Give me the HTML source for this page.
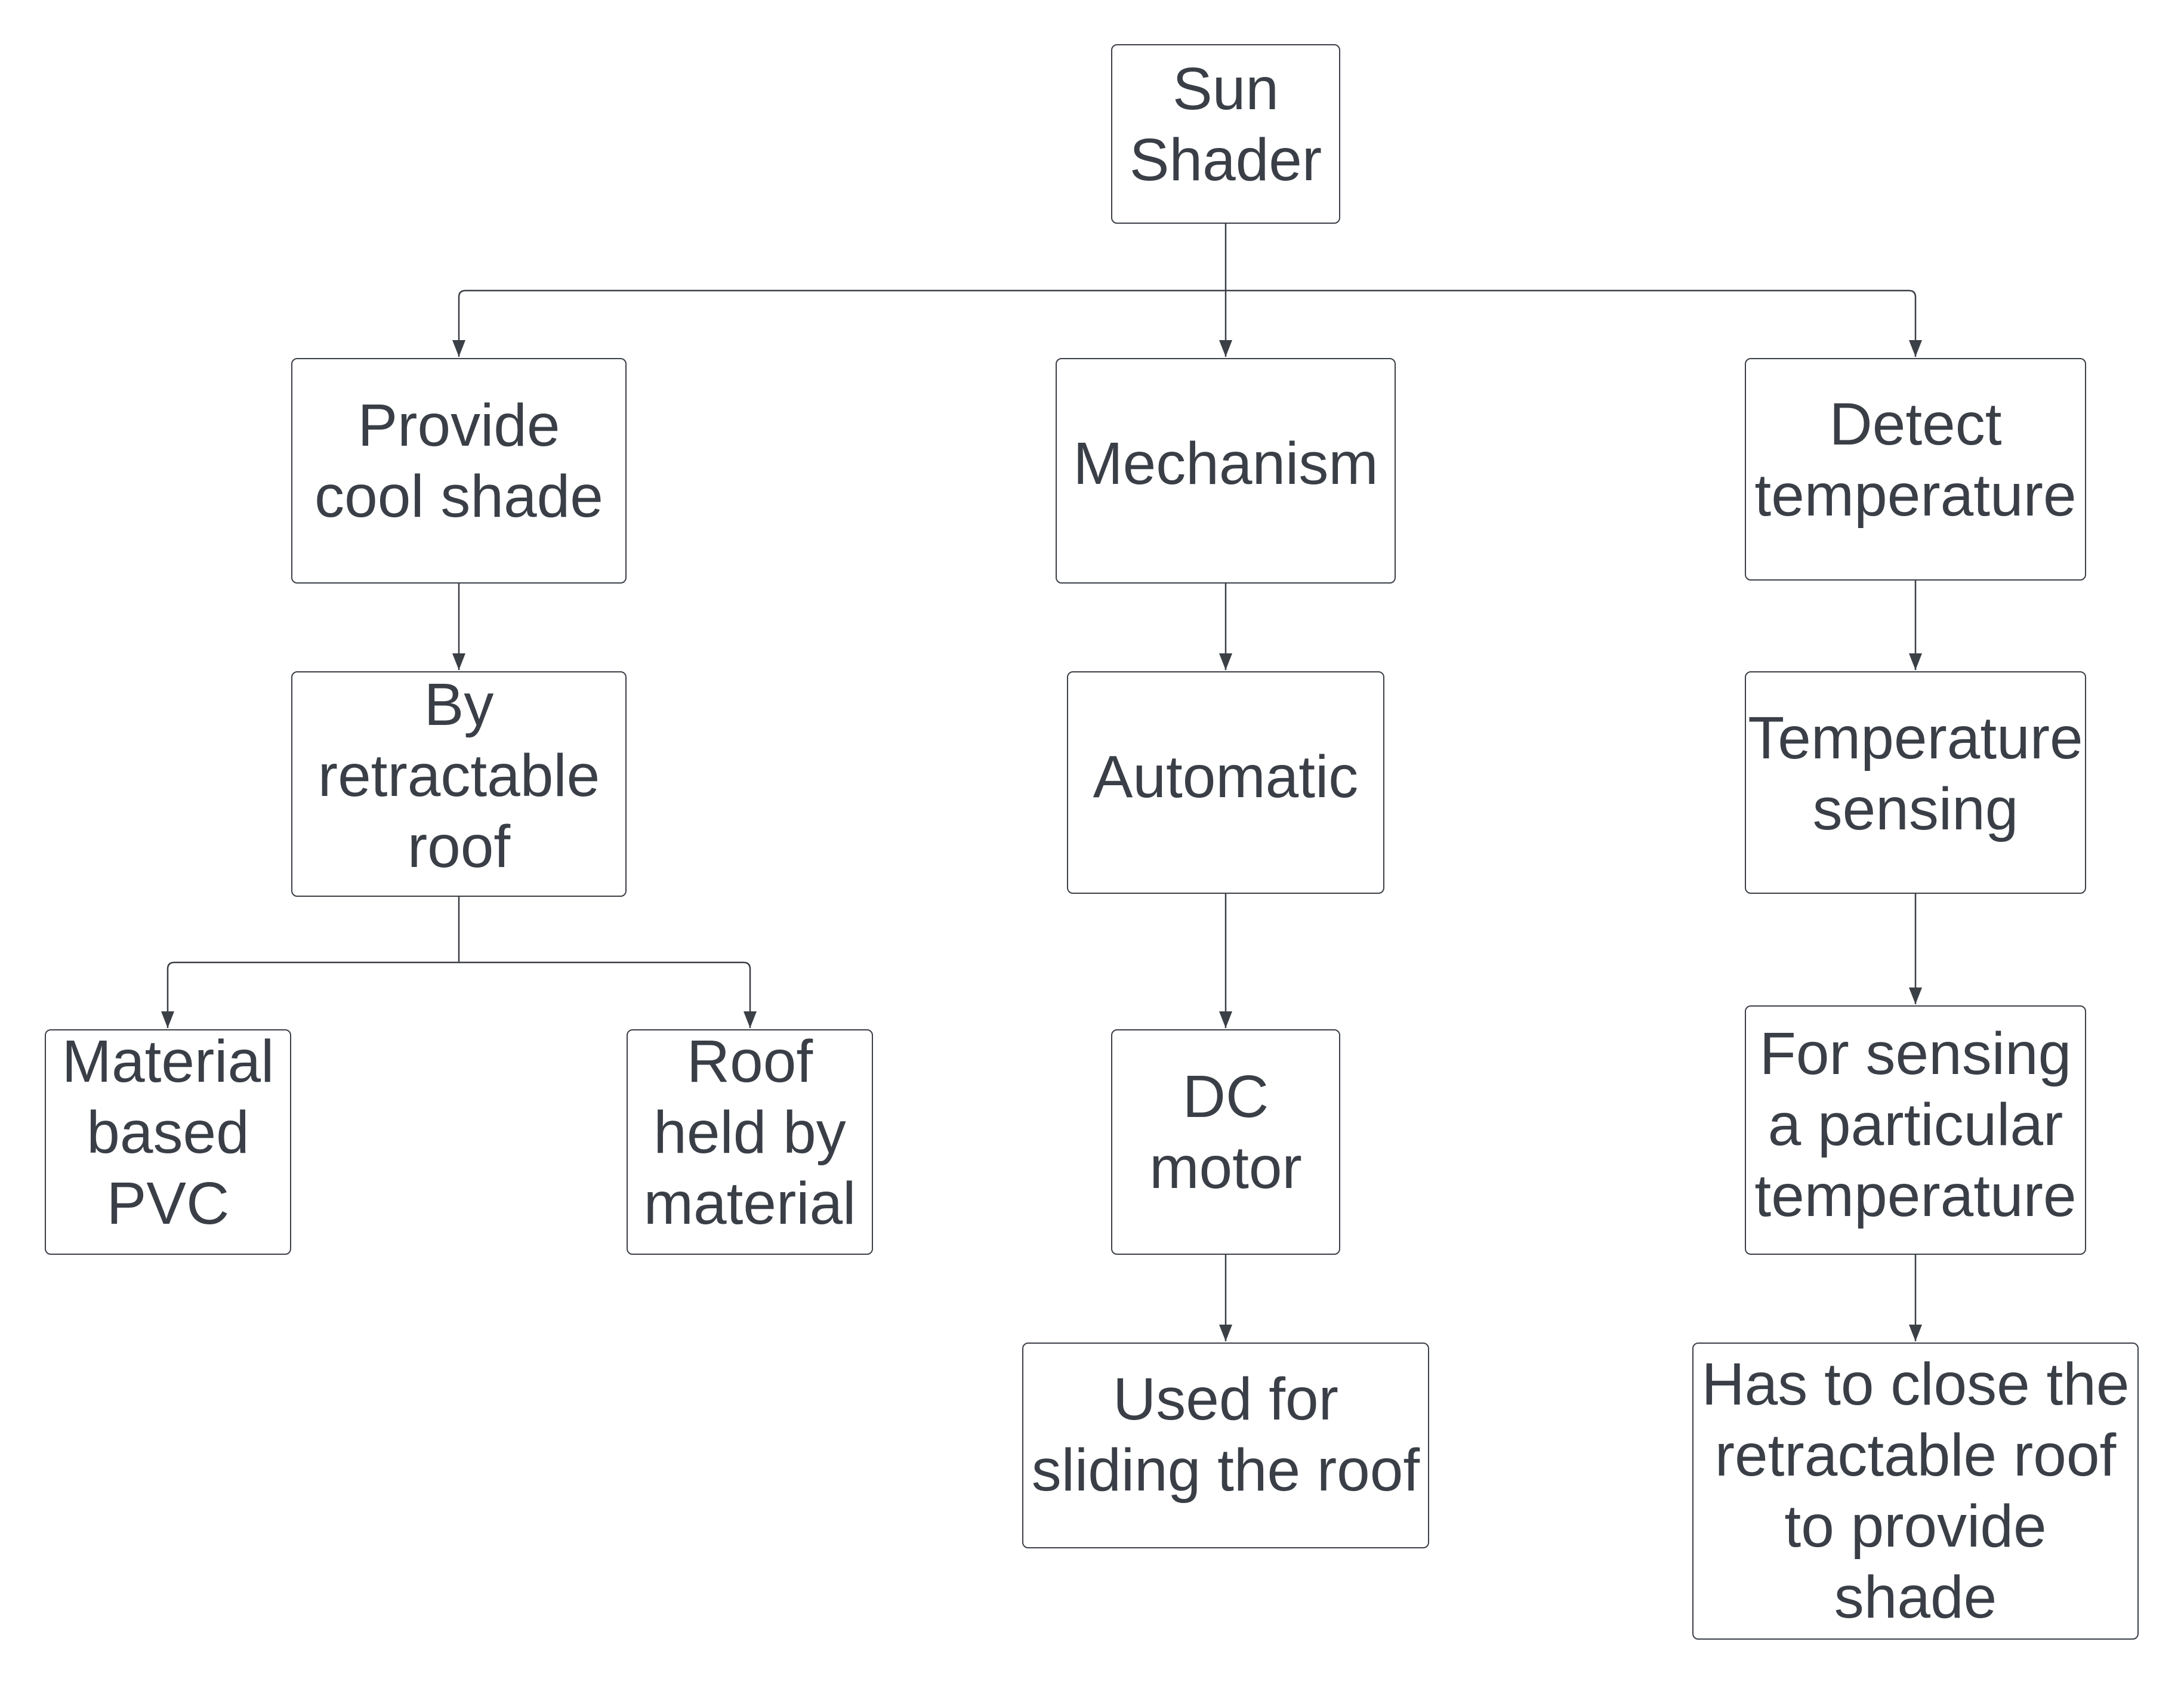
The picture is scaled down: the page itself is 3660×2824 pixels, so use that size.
<!DOCTYPE html>
<html><head><meta charset="utf-8"><style>
html,body{margin:0;padding:0;background:#fff;}
body{width:3660px;height:2824px;position:relative;overflow:hidden;font-family:"Liberation Sans",Arial,sans-serif;}
.b{position:absolute;box-sizing:border-box;border:2.5px solid #3b3f46;border-radius:10px;display:flex;align-items:center;justify-content:center;text-align:center;color:#3a3f47;font-size:100px;line-height:119px;white-space:nowrap;background:#fff;}
svg{position:absolute;left:0;top:0;}
</style></head><body>
<svg width="3660" height="2824" viewBox="0 0 3660 2824">
<g stroke="#3b3f46" stroke-width="2.5" fill="none">
<path d="M2054 375 V487"/>
<path d="M2054 487 V598"/>
<path d="M2054 487 H780 Q769 487 769 498 V598"/>
<path d="M2054 487 H3199 Q3210 487 3210 498 V598"/>
<path d="M769 978 V1123"/>
<path d="M2054 978 V1123"/>
<path d="M3210 973 V1123"/>
<path d="M769 1503 V1613"/>
<path d="M769 1613 H292 Q281 1613 281 1624 V1723"/>
<path d="M769 1613 H1246 Q1257 1613 1257 1624 V1723"/>
<path d="M2054 1498 V1723"/>
<path d="M3210 1498 V1683"/>
<path d="M2054 2103 V2248"/>
<path d="M3210 2103 V2248"/>
</g>
<g fill="#3b3f46">
<path d="M2043 570 L2065 570 L2054 598 Z"/>
<path d="M758 570 L780 570 L769 598 Z"/>
<path d="M3199 570 L3221 570 L3210 598 Z"/>
<path d="M758 1095 L780 1095 L769 1123 Z"/>
<path d="M2043 1095 L2065 1095 L2054 1123 Z"/>
<path d="M3199 1095 L3221 1095 L3210 1123 Z"/>
<path d="M270 1695 L292 1695 L281 1723 Z"/>
<path d="M1246 1695 L1268 1695 L1257 1723 Z"/>
<path d="M2043 1695 L2065 1695 L2054 1723 Z"/>
<path d="M3199 1655 L3221 1655 L3210 1683 Z"/>
<path d="M2043 2220 L2065 2220 L2054 2248 Z"/>
<path d="M3199 2220 L3221 2220 L3210 2248 Z"/>
</g>
</svg>
<div class="b" style="left:1862px;top:74px;width:384px;height:301px;padding-bottom:32px;">Sun<br>Shader</div>
<div class="b" style="left:488px;top:600px;width:562px;height:378px;padding-bottom:32px;">Provide<br>cool shade</div>
<div class="b" style="left:1769px;top:600px;width:570px;height:378px;padding-bottom:24px;">Mechanism</div>
<div class="b" style="left:2924px;top:600px;width:572px;height:373px;padding-bottom:32px;">Detect<br>temperature</div>
<div class="b" style="left:488px;top:1125px;width:562px;height:378px;padding-bottom:28px;">By<br>retractable<br>roof</div>
<div class="b" style="left:1788px;top:1125px;width:532px;height:373px;padding-bottom:18px;">Automatic</div>
<div class="b" style="left:2924px;top:1125px;width:572px;height:373px;padding-bottom:30px;">Temperature<br>sensing</div>
<div class="b" style="left:75px;top:1725px;width:413px;height:378px;padding-bottom:32px;">Material<br>based<br>PVC</div>
<div class="b" style="left:1050px;top:1725px;width:413px;height:378px;padding-bottom:32px;">Roof<br>held by<br>material</div>
<div class="b" style="left:1862px;top:1725px;width:384px;height:378px;padding-bottom:32px;">DC<br>motor</div>
<div class="b" style="left:2924px;top:1685px;width:572px;height:418px;padding-bottom:18px;">For sensing<br>a particular<br>temperature</div>
<div class="b" style="left:1713px;top:2250px;width:682px;height:345px;padding-bottom:36px;">Used for<br>sliding the roof</div>
<div class="b" style="left:2836px;top:2250px;width:748px;height:498px;">Has to close the<br>retractable roof<br>to provide<br>shade</div>
</body></html>
